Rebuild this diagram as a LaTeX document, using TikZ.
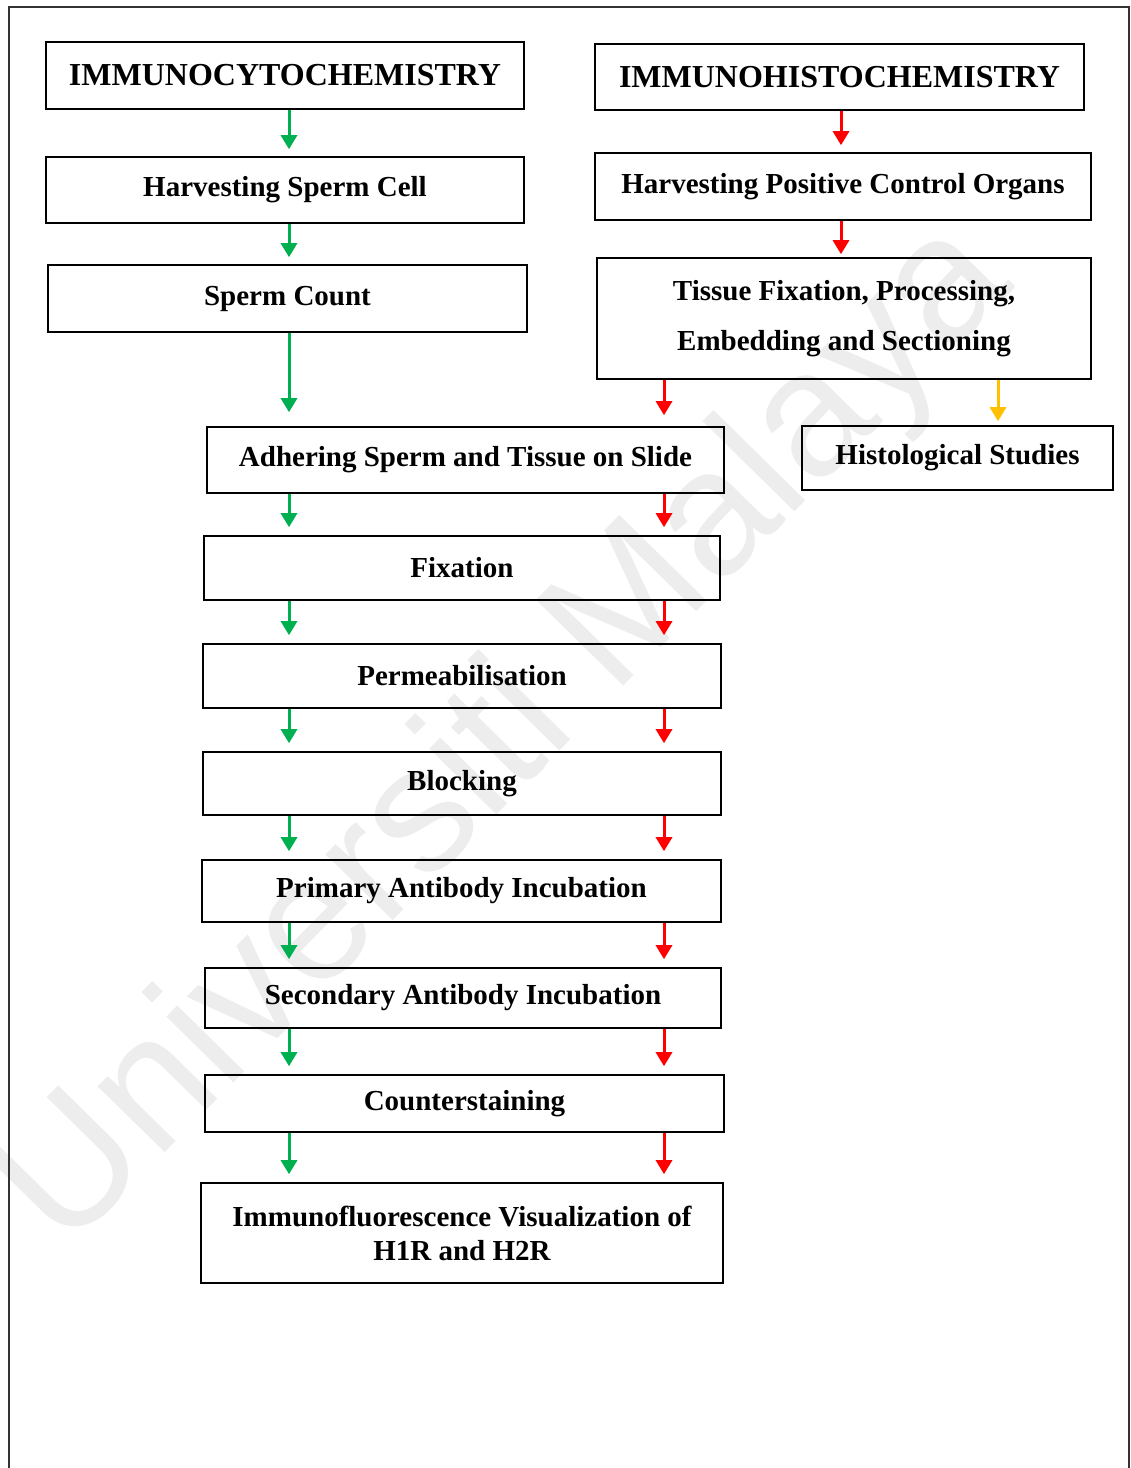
\documentclass[tikz,border=0pt]{standalone}
\usepackage{fontspec}
\setmainfont{Liberation Serif}
\newfontfamily\wmfont{Liberation Sans}
\usetikzlibrary{arrows.meta}
\definecolor{icgreen}{RGB}{0,176,80}
\definecolor{ihred}{RGB}{255,0,0}
\definecolor{hsyellow}{RGB}{255,192,0}
\newcommand{\headfont}{\fontsize{32}{38}\selectfont\bfseries}
\newcommand{\stepfont}{\fontsize{29}{34}\selectfont\bfseries}
\tikzset{
    box/.style={draw, line width=1.6pt, inner sep=0pt, align=center, font=\stepfont},
    flow/.style={line width=3pt, -{Triangle[length=14pt,width=16pt]}, shorten >=8pt},
    gflow/.style={flow, icgreen},
    rflow/.style={flow, ihred},
    yflow/.style={flow, hsyellow}
}
\begin{document}
\begin{tikzpicture}[x=1pt, y=-1pt]
        \useasboundingbox (0,0) rectangle (1131,1468);
        \node[text=black!7, font=\wmfont\fontsize{178}{178}\selectfont, rotate=45.5] (wm) at (508,738) {Universiti Malaya};
        \draw[line width=1.2pt, black!80] (9,1468) -- (9,7) -- (1129,7) -- (1129,1468);

        \coordinate (gx) at (289,0);
        \coordinate (rx) at (664,0);
        \coordinate (rtop) at (841,0);
        \coordinate (yx) at (998,0);

        \node[box, font=\headfont, minimum width=478pt, minimum height=67pt] (icc) at (285,75.5) {IMMUNOCYTOCHEMISTRY};
        \node[box, minimum width=478pt, minimum height=66pt] (hsc) at (285,190) {Harvesting Sperm Cell};
        \node[box, minimum width=479pt, minimum height=67pt] (scount) at (287.5,298.5) {Sperm Count};

        \node[box, font=\headfont, minimum width=489pt, minimum height=66pt] (ihc) at (839.5,77) {IMMUNOHISTOCHEMISTRY};
        \node[box, minimum width=496pt, minimum height=67pt] (hpco) at (843,186.5) {Harvesting Positive Control Organs};
        \node[box, font=\fontsize{29}{50}\selectfont\bfseries, minimum width=494pt, minimum height=121pt] (tfix) at (844,318.5) {Tissue Fixation, Processing,\\Embedding and Sectioning};

        \node[box, minimum width=517pt, minimum height=66pt] (adh) at (465.5,460) {Adhering Sperm and Tissue on Slide};
        \node[box, minimum width=311pt, minimum height=64pt] (hist) at (957.5,458) {Histological Studies};
        \node[box, minimum width=516pt, minimum height=64pt] (fix) at (462,568) {Fixation};
        \node[box, minimum width=518pt, minimum height=64pt] (perm) at (462,676) {Permeabilisation};
        \node[box, minimum width=518pt, minimum height=63pt] (block) at (462,783.5) {Blocking};
        \node[box, minimum width=519pt, minimum height=62pt] (prim) at (461.5,891) {Primary Antibody Incubation};
        \node[box, minimum width=516pt, minimum height=60pt] (sec) at (463,998) {Secondary Antibody Incubation};
        \node[box, minimum width=519pt, minimum height=57pt] (counter) at (464.5,1103.5) {Counterstaining};
        \node[box, minimum width=522pt, minimum height=100pt] (ifv) at (462,1233) {Immunofluorescence Visualization of\\H1R and H2R};

        \draw[gflow, shorten >=7pt] (icc.south -| gx) -- (hsc.north -| gx);
        \draw[gflow, shorten >=7pt] (hsc.south -| gx) -- (scount.north -| gx);
        \draw[gflow, shorten >=14pt] (scount.south -| gx) -- (adh.north -| gx);

        \draw[rflow, shorten >=7pt] (ihc.south -| rtop) -- (hpco.north -| rtop);
        \draw[rflow, shorten >=3pt] (hpco.south -| rtop) -- (tfix.north -| rtop);
        \draw[rflow, shorten >=11pt] (tfix.south -| rx) -- (adh.north -| rx);
        \draw[yflow, shorten >=4pt] (tfix.south -| yx) -- (hist.north -| yx);

        \draw[gflow] (adh.south -| gx) -- (fix.north -| gx);
        \draw[rflow] (adh.south -| rx) -- (fix.north -| rx);
        \draw[gflow] (fix.south -| gx) -- (perm.north -| gx);
        \draw[rflow] (fix.south -| rx) -- (perm.north -| rx);
        \draw[gflow] (perm.south -| gx) -- (block.north -| gx);
        \draw[rflow] (perm.south -| rx) -- (block.north -| rx);
        \draw[gflow] (block.south -| gx) -- (prim.north -| gx);
        \draw[rflow] (block.south -| rx) -- (prim.north -| rx);
        \draw[gflow] (prim.south -| gx) -- (sec.north -| gx);
        \draw[rflow] (prim.south -| rx) -- (sec.north -| rx);
        \draw[gflow] (sec.south -| gx) -- (counter.north -| gx);
        \draw[rflow] (sec.south -| rx) -- (counter.north -| rx);
        \draw[gflow] (counter.south -| gx) -- (ifv.north -| gx);
        \draw[rflow] (counter.south -| rx) -- (ifv.north -| rx);
    \end{tikzpicture}
\end{document}
